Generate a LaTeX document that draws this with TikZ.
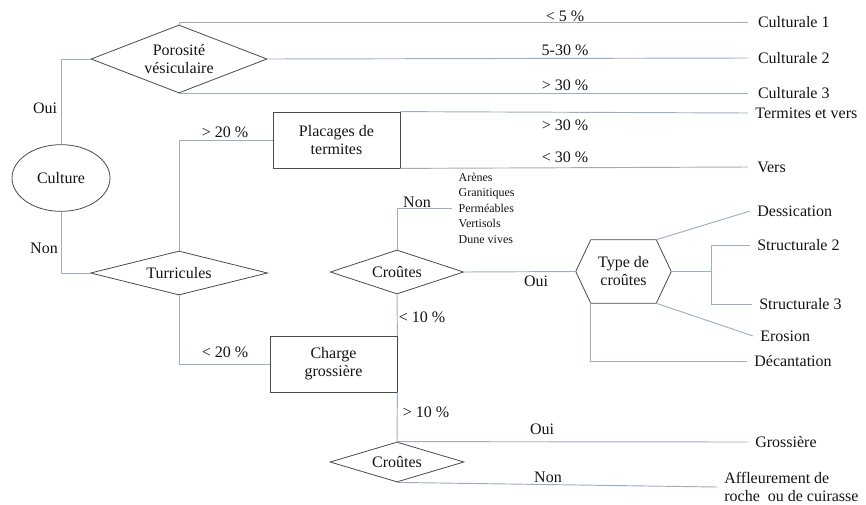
\documentclass[tikz,border=0pt]{standalone}
\usepackage{fontspec}
\setmainfont{Liberation Serif}
\usetikzlibrary{shapes.geometric,calc}

\definecolor{linkc}{HTML}{9AAEC5}
\definecolor{edgec}{HTML}{4A4A4A}
\definecolor{inkc}{HTML}{141414}

\tikzset{
  link/.style={draw=linkc, line width=0.7pt},
  decision/.style={diamond, draw=edgec, line width=0.6pt, inner sep=0pt,
    align=center, text=inkc, font=\fontsize{12}{13.5}\selectfont},
  stepbox/.style={rectangle, draw=edgec, line width=0.6pt, inner sep=0pt,
    minimum width=95.25pt, minimum height=42pt, align=center, text=inkc,
    font=\fontsize{12}{13.5}\selectfont},
  start/.style={ellipse, draw=edgec, line width=0.6pt, inner sep=0pt,
    minimum width=73.5pt, minimum height=50pt, text=inkc,
    font=\fontsize{12}{13.5}\selectfont},
  result/.style={anchor=west, inner sep=0pt, outer xsep=5.5pt, align=left,
    text=inkc, font=\fontsize{12}{13.5}\selectfont},
  cond/.style={inner sep=0pt, text=inkc, font=\fontsize{12}{13.5}\selectfont},
  smallnote/.style={anchor=west, inner sep=0pt, outer xsep=5pt, align=left,
    text=inkc, font=\fontsize{9}{11.6}\selectfont}
}

\begin{document}
\begin{tikzpicture}[x=0.75pt, y=-0.75pt]
\useasboundingbox (0,0) rectangle (866,504);

% ---- decision shapes and boxes ----
\node[start] (cult) at (61,178) {Culture};
\node[decision, minimum width=132pt, minimum height=51pt, shape aspect=2.6]
  (por) at (179,59) {Porosité\\vésiculaire};
\node[decision, minimum width=132.75pt, minimum height=33pt, shape aspect=4]
  (tur) at (179,273) {Turricules};
\node[stepbox] (plac) at (336.5,140) {Placages de\\termites};
\node[stepbox] (charge) at (333.5,364) {Charge\\grossière};
\node[decision, minimum width=100pt, minimum height=33pt, shape aspect=3]
  (cr1) at (397,272) {Croûtes};
\node[decision, minimum width=100.5pt, minimum height=30pt, shape aspect=3.3]
  (cr2) at (397,462) {Croûtes};

% hexagon "Type de croûtes"
\node[minimum width=71.25pt, minimum height=47.25pt, inner sep=0pt, align=center,
  text=inkc, font=\fontsize{12}{13.5}\selectfont] (hex) at (623.5,271.5)
  {Type de\\croûtes};
\coordinate (hexNE) at ([shift={(-15,0)}]hex.north east);
\coordinate (hexNW) at ([shift={(15,0)}]hex.north west);
\coordinate (hexSE) at ([shift={(-15,0)}]hex.south east);
\coordinate (hexSW) at ([shift={(15,0)}]hex.south west);
\draw[edgec, line width=0.6pt] (hex.west) -- (hexNW) -- (hexNE) -- (hex.east)
  -- (hexSE) -- (hexSW) -- cycle;

% ---- end results ----
\node[result, outer xsep=7.5pt] (c1) at (748,22) {Culturale 1};
\node[result, outer xsep=7.5pt] (c2) at (748,58) {Culturale 2};
\node[result, outer xsep=7.5pt] (c3) at (748,93) {Culturale 3};
\node[result] (tv) at (748,113) {Termites et vers};
\node[result, outer xsep=7pt] (vers) at (748,167) {Vers};
\node[result] (dess) at (750,211) {Dessication};
\node[result] (s2) at (750,245) {Structurale 2};
\node[result] (s3) at (752,304) {Structurale 3};
\node[result] (ero) at (753,336) {Erosion};
\node[result] (dec) at (747,361) {Décantation};
\node[result] (gros) at (748,442) {Grossière};
\node[result, align=left, font=\fontsize{12}{13.5}\selectfont] (aff) at (717,487)
  {Affleurement de\\roche\ \ ou de cuirasse};
\node[smallnote] (gr) at (452,208)
  {Arènes\\Granitiques\\Perméables\\Vertisols\\Dune vives};

% ---- connectors ----
\draw[link] (cult.north) |- (por.west);
\draw[link] (cult.south) |- (tur.west);
\draw[link] (por.north) |- (c1.west);
\draw[link] (por.east) -- (c2.west);
\draw[link] (por.south) |- (c3.west);
\draw[link] (tur.north) |- (plac.west);
\draw[link] (plac.north east) -- (tv.west);
\draw[link] (plac.south east) -- (vers.west);
\draw[link] (tur.south) |- (charge.west);
\draw[link] (cr1.north) |- (gr.west);
\draw[link] (cr1.east) -- (hex.west);
\draw[link] (cr1.south) -- (charge.north east);
\draw[link] (charge.south east) -- (cr2.north);
\draw[link] (hexNE) -- (dess.west);
\draw[link] (hex.east) -- ++(40,0) coordinate (fork);
\draw[link] (fork) |- (s2.west);
\draw[link] (fork) |- (s3.west);
\draw[link] (hexSE) -- (ero.west);
\draw[link] (hexSW) |- (dec.west);
\draw[link] (cr2.north) -- (gros.west);
\draw[link] (cr2.south) -- (aff.west);

% ---- condition labels ----
\node[cond] (l1) at (565,16) {< 5 \%};
\node[cond] (l2) at (565,50) {5-30 \%};
\node[cond] (l3) at (565,85) {> 30 \%};
\node[cond] (l4) at (565,125) {> 30 \%};
\node[cond] (l5) at (565,157) {< 30 \%};
\node[cond] (l6) at (225,132) {> 20 \%};
\node[cond] (l7) at (225,352) {< 20 \%};
\node[cond] (l8) at (45,108) {Oui};
\node[cond] (l9) at (44,248) {Non};
\node[cond] (l10) at (417,202) {Non};
\node[cond] (l11) at (536,281) {Oui};
\node[cond] (l12) at (422,317) {< 10 \%};
\node[cond] (l13) at (426,412) {> 10 \%};
\node[cond] (l14) at (542,429) {Oui};
\node[cond] (l15) at (548,477) {Non};
\end{tikzpicture}
\end{document}
